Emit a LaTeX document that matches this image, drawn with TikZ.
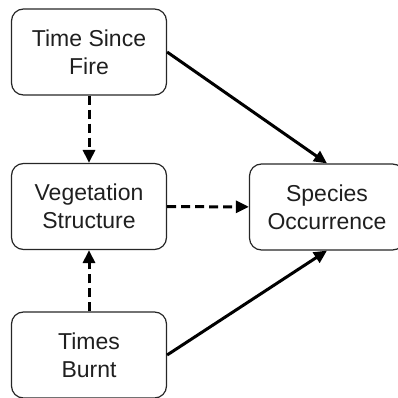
\documentclass[tikz,border=0pt]{standalone}
\usepackage{fontspec}
\setmainfont{Liberation Sans}
\usetikzlibrary{arrows.meta}
\begin{document}
\begin{tikzpicture}[x=1pt,y=-1pt,
  box/.style={draw=black!85, line width=1.2pt, rounded corners=12pt, minimum width=155pt, minimum height=86pt, align=center, font=\fontsize{23}{28}\selectfont, text=black!88, inner sep=0pt},
  conn/.style={line width=3pt, -{Triangle[length=13pt,width=12pt]}},
  dashconn/.style={conn, dash pattern=on 9pt off 5pt}]
\useasboundingbox (0,0) rectangle (398,398);
\node[box] (tsf) at (89,52) {Time Since\\Fire};
\node[box] (veg) at (89,206.5) {Vegetation\\Structure};
\node[box] (tb) at (89,355) {Times\\Burnt};
\node[box] (sp) at (327,207) {Species\\Occurrence};
\draw[dashconn] (tsf) -- (veg);
\draw[dashconn] (tb) -- (veg);
\draw[dashconn] (veg) -- (sp);
\draw[conn] (tsf.east) -- (sp.north);
\draw[conn] (tb.east) -- (sp.south);
\end{tikzpicture}
\end{document}
